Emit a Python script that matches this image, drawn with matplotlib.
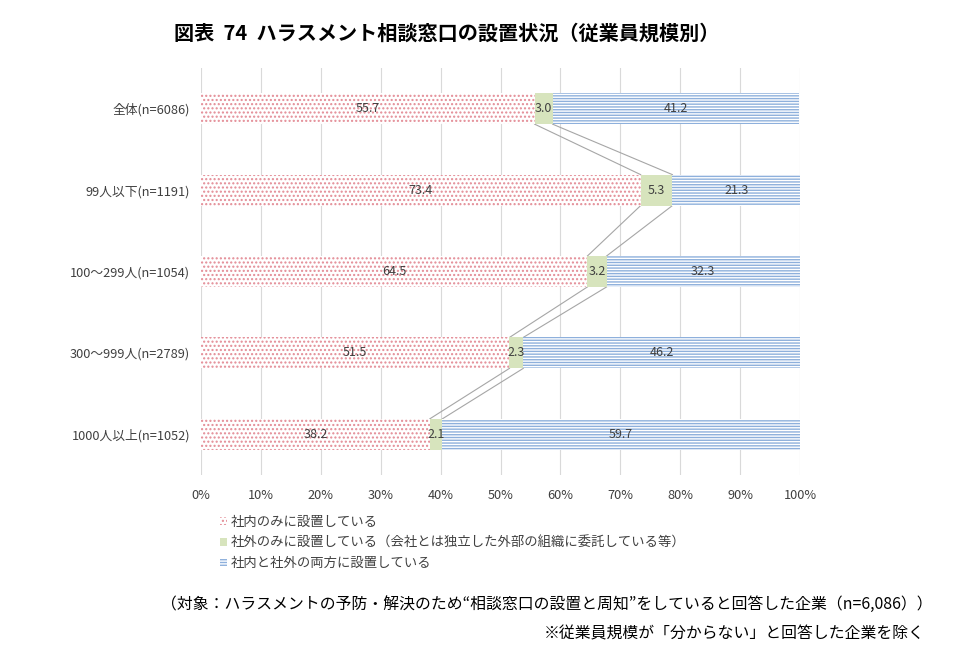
import matplotlib
matplotlib.use("Agg")
import matplotlib.pyplot as plt
from matplotlib.patches import Patch
import numpy as np

plt.rcParams['font.family'] = ['Noto Sans CJK JP', 'DejaVu Sans']
plt.rcParams['hatch.linewidth'] = 1.0

categories = ["全体(n=6086)", "99人以下(n=1191)", "100～299人(n=1054)",
              "300～999人(n=2789)", "1000人以上(n=1052)"]
inside_only = [55.7, 73.4, 64.5, 51.5, 38.2]
outside_only = [3.0, 5.3, 3.2, 2.3, 2.1]
both = [41.2, 21.3, 32.3, 46.2, 59.7]
series_names = ["社内のみに設置している",
                "社外のみに設置している（会社とは独立した外部の組織に委託している等）",
                "社内と社外の両方に設置している"]
xticks = [0, 10, 20, 30, 40, 50, 60, 70, 80, 90, 100]
title = "図表  74  ハラスメント相談窓口の設置状況（従業員規模別）"
note1 = "（対象：ハラスメントの予防・解決のため“相談窓口の設置と周知”をしていると回答した企業（n=6,086））"
note2 = "※従業員規模が「分からない」と回答した企業を除く"

fig = plt.figure(figsize=(9.55, 6.61), dpi=100)
ax = fig.add_axes([201/955, 1-475/661, 599/955, 407/661])

y = np.arange(len(categories))
h = 0.38
a = np.array(inside_only)
b = np.array(outside_only)
c = np.array(both)

dot_col = '#e38b95'
blue_col = '#8eb0dc'
ax.barh(y, a, height=h, color='white', edgecolor=dot_col, hatch='....', linewidth=0, zorder=3)
ax.barh(y, b, left=a, height=h, color='#d7e4bd', linewidth=0, zorder=3)
ax.barh(y, c, left=a+b, height=h, color='white', edgecolor=blue_col, hatch='------', linewidth=0, zorder=3)

# connector lines
for i in range(len(y)-1):
    for cum in (a, a+b):
        ax.plot([cum[i], cum[i+1]], [y[i]+h/2, y[i+1]-h/2], color='#a6a6a6', lw=0.8, zorder=2)

lab_kw = dict(ha='center', va='center', fontsize=9, color='#404040', zorder=5)
for i in range(len(y)):
    ax.text(a[i]/2, y[i], f"{a[i]:.1f}", **lab_kw)
    ax.text(a[i]+b[i]/2, y[i], f"{b[i]:.1f}", **lab_kw)
    ax.text(a[i]+b[i]+c[i]/2, y[i], f"{c[i]:.1f}", **lab_kw)

ax.set_xlim(0, 100)
ax.set_ylim(len(y)-0.5, -0.5)
ax.set_yticks(y)
ax.set_yticklabels(categories, fontsize=9.2, color='#404040')
ax.set_xticks(xticks)
ax.set_xticklabels([f"{t}%" for t in xticks], fontsize=9.2, color='#404040')
ax.tick_params(length=0, pad=8)
ax.tick_params(axis='x', pad=10)
ax.grid(axis='x', color='#d9d9d9', lw=0.8, zorder=0)
for s in ax.spines.values():
    s.set_visible(False)

handles = [Patch(facecolor='white', edgecolor=dot_col, hatch='....', linewidth=0),
           Patch(facecolor='#d7e4bd', linewidth=0),
           Patch(facecolor='white', edgecolor=blue_col, hatch='------', linewidth=0)]
fig.legend(handles, series_names, loc='upper left', bbox_to_anchor=(213/955, 1-508/661),
           frameon=False, fontsize=9.6, handlelength=0.55, handleheight=0.55,
           handletextpad=0.3, labelspacing=0.5, borderpad=0, labelcolor='#404040')

fig.text(447/955, 1-33/661, title, ha='center', va='center', fontsize=14.5, fontweight='bold')
fig.text(933/955, 1-604/661, note1, ha='right', va='center', fontsize=11.4)
fig.text(925/955, 1-634/661, note2, ha='right', va='center', fontsize=11.4)

fig.savefig("out.png", dpi=100)
